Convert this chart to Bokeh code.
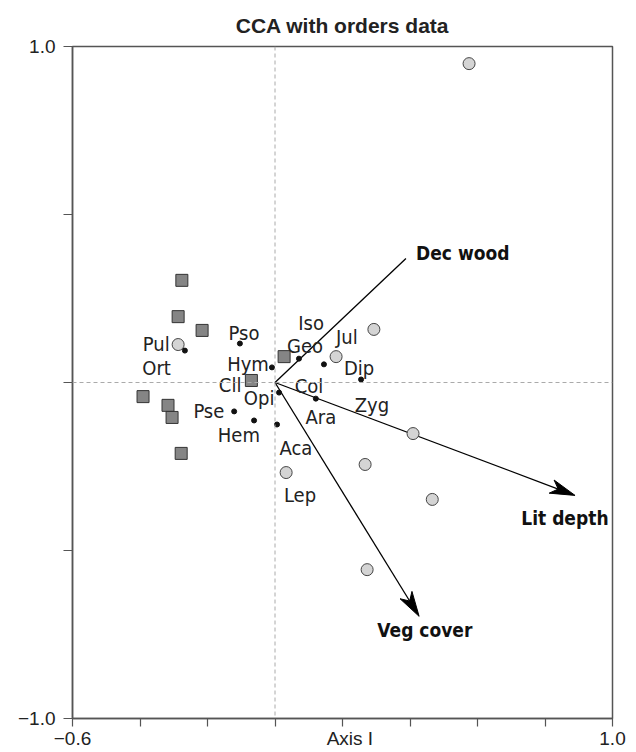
import math
from bokeh.plotting import figure
from bokeh.models import (ColumnDataSource, FixedTicker, Span, Label)
from bokeh.core.properties import value
from bokeh.embed import file_html
from bokeh.resources import INLINE

# Sites (squares)
sq_x = [-0.276, -0.287, -0.216, 0.027, -0.070, -0.391, -0.317, -0.305, -0.278]
sq_y = [0.304, 0.196, 0.155, 0.077, 0.006, -0.042, -0.068, -0.104, -0.211]
# Sites (circles)
ci_x = [0.575, -0.287, 0.293, 0.181, 0.409, 0.267, 0.466, 0.033, 0.273]
ci_y = [0.949, 0.113, 0.158, 0.077, -0.152, -0.244, -0.348, -0.268, -0.557]
# Order scores (small dots)
dot_x = [-0.267, -0.104, -0.009, 0.071, 0.145, 0.255, 0.121, 0.012, 0.006, -0.062, -0.121]
dot_y = [0.095, 0.116, 0.045, 0.071, 0.054, 0.009, -0.048, -0.030, -0.125, -0.113, -0.086]
# Order labels
lab_text = ["Pul", "Ort", "Pso", "Hym", "Cll", "Opi", "Pse", "Hem", "Aca",
            "Iso", "Geo", "Jul", "Dip", "Col", "Ara", "Zyg", "Lep"]
lab_x = [-0.352, -0.351, -0.092, -0.080, -0.133, -0.047, -0.196, -0.107, 0.062,
         0.107, 0.089, 0.213, 0.249, 0.101, 0.136, 0.287, 0.074]
lab_y = [0.116, 0.042, 0.146, 0.054, -0.006, -0.045, -0.086, -0.155, -0.196,
         0.176, 0.110, 0.134, 0.042, -0.009, -0.104, -0.068, -0.336]
# Environmental vectors
env_names = ["Dec wood", "Lit depth", "Veg cover"]
env_x = [0.388, 0.889, 0.427]
env_y = [0.369, -0.336, -0.696]
env_lab_x = [0.418, 0.859, 0.444]
env_lab_y = [0.384, -0.402, -0.738]
env_head = [False, True, True]

x_ticks = [-0.6, -0.4, -0.2, 0.0, 0.2, 0.4, 0.6, 0.8, 1.0]
y_ticks = [-1.0, -0.5, 0.0, 0.5, 1.0]

NARROW = "Liberation Sans Narrow, DejaVu Sans Condensed, Liberation Sans, sans-serif"
REG = "Liberation Sans, Arial, sans-serif"

W, H = 628, 752
BL, BR, BT, BB = 72, 16, 46, 34
p = figure(width=W, height=H, x_range=(-0.6, 1.0), y_range=(-1.0, 1.0),
           output_backend="svg", toolbar_location=None,
           min_border_left=BL, min_border_right=BR, min_border_top=BT, min_border_bottom=BB)
p.title.text = "CCA with orders data"
p.title.align = "center"
p.title.offset = 8
p.title.text_font = REG
p.title.text_font_size = "21px"
p.title.text_font_style = "bold"
p.title.text_color = "#222222"
p.title.standoff = 20
p.grid.visible = False
p.outline_line_color = "#555555"
p.outline_line_width = 1.5
p.background_fill_color = "white"
p.border_fill_color = "white"

# x axis: minor ticks are the visible marks, majors carry labels (incl. axis title)
xa = p.xaxis[0]
xa.ticker = FixedTicker(ticks=[-0.6, 0.222, 1.0], minor_ticks=x_ticks)
xa.major_label_overrides = {-0.6: "\u22120.6", 0.222: "Axis I", 1.0: "1.0"}
xa.major_tick_out = 0
xa.major_tick_in = 0
xa.minor_tick_out = 8
xa.minor_tick_in = 0
xa.major_label_standoff = 1
ya = p.yaxis[0]
ya.ticker = FixedTicker(ticks=y_ticks, minor_ticks=[])
ya.major_label_overrides = {-1.0: "\u22121.0", -0.5: "", 0.0: "", 0.5: "", 1.0: "1.0"}
ya.major_tick_out = 9
ya.major_tick_in = 0
ya.major_label_standoff = 8
for ax in (xa, ya):
    ax.axis_line_color = "#555555"
    ax.axis_line_width = 1.5
    ax.major_tick_line_color = "#555555"
    ax.minor_tick_line_color = "#555555"
    ax.major_tick_line_width = 1.2
    ax.minor_tick_line_width = 1.2
    ax.major_label_text_font = REG
    ax.major_label_text_font_size = "19px"
    ax.major_label_text_color = "#222222"

p.add_layout(Label(x=-0.6, y=0.0, x_offset=-33, text="Axis II", angle=math.pi / 2,
                   text_align="center", text_baseline="middle", text_font=REG,
                   text_font_size="19px", text_color="#222222"))

p.add_layout(Span(location=0, dimension="width", line_color="#aaaaaa", line_dash="4 3", line_width=1))
p.add_layout(Span(location=0, dimension="height", line_color="#aaaaaa", line_dash="4 3", line_width=1))

# vectors with stealth-style heads (head geometry in screen pixels, converted to data)
sx = (W - BL - BR) / 1.6
sy = (H - BT - BB) / 2.0
HL, HW, NOTCH = 25.0, 7.0, 7.0
line_xs, line_ys, head_xs, head_ys = [], [], [], []
for ex, ey, hd in zip(env_x, env_y, env_head):
    if not hd:
        line_xs.append([0, ex]); line_ys.append([0, ey])
        continue
    dx, dy = ex * sx, ey * sy
    L = math.hypot(dx, dy)
    ux, uy = dx / L, dy / L
    nx, ny = -uy, ux
    bx, by = dx - HL * ux, dy - HL * uy
    mx, my = dx - (HL - NOTCH) * ux, dy - (HL - NOTCH) * uy
    pts = [(dx, dy), (bx + HW * nx, by + HW * ny), (mx, my), (bx - HW * nx, by - HW * ny)]
    head_xs.append([q[0] / sx for q in pts]); head_ys.append([q[1] / sy for q in pts])
    line_xs.append([0, mx / sx]); line_ys.append([0, my / sy])
p.multi_line(line_xs, line_ys, line_color="black", line_width=1.3)
p.patches(head_xs, head_ys, fill_color="black", line_color="black", line_width=1)

p.scatter(sq_x, sq_y, marker="square", size=12, fill_color="#858585", line_color="#333333", line_width=1)
p.scatter(ci_x, ci_y, marker="circle", size=12, fill_color="#d4d4d4", line_color="#444444", line_width=1)
p.scatter(dot_x, dot_y, marker="circle", size=5, fill_color="#111111", line_color="#111111")

src = ColumnDataSource(dict(x=lab_x, y=lab_y, t=lab_text))
p.text("x", "y", text="t", source=src, text_align="center", text_baseline="middle",
       text_font=value(NARROW), text_font_size="20px", text_color="#222222")
esrc = ColumnDataSource(dict(x=env_lab_x, y=env_lab_y, t=env_names,
                             a=["left", "center", "center"]))
p.text("x", "y", text="t", source=esrc, text_align="a", text_baseline="middle",
       text_font=value(NARROW), text_font_size="19px", text_font_style="bold", text_color="#111111")

open("out.html", "w").write(file_html(p, INLINE))
